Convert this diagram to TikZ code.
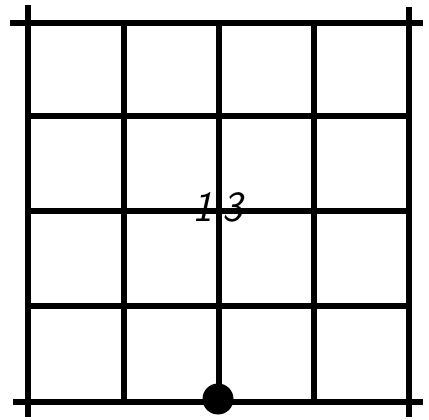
\documentclass[tikz,border=0pt]{standalone}
\usepackage{fontspec}
\usepackage{tikz}
\usetikzlibrary{positioning,calc}
\tikzset{
  gridline/.style   = {line width=6pt},
  stone/.style      = {circle, fill=black, minimum size=31pt, inner sep=0pt},
  lbl/.style        = {font=\sffamily\slshape\fontsize{43}{43}\selectfont, inner sep=0pt},
}

\begin{document}
\begin{tikzpicture}[x=1pt, y=-1pt]
  \useasboundingbox (0,0) rectangle (429,420);
  % outer frame, with overhanging ends
  \draw[gridline] (10,23) -- (423,23);
  \draw[gridline] (13,402) -- (423,402);
  \draw[gridline] (28,5) -- (28,417);
  \draw[gridline] (409,7) -- (409,417);
  % inner lines
  \foreach \x in {124,219,314}
    \draw[gridline] (\x,23) -- (\x,402);
  \foreach \y in {116,211,306}
    \draw[gridline] (28,\y) -- (409,\y);
  \node[lbl] (num) at (218,207) {1\hspace{10pt}3};
  \node[stone] (dot) at (218,399) {};
\end{tikzpicture}
\end{document}
